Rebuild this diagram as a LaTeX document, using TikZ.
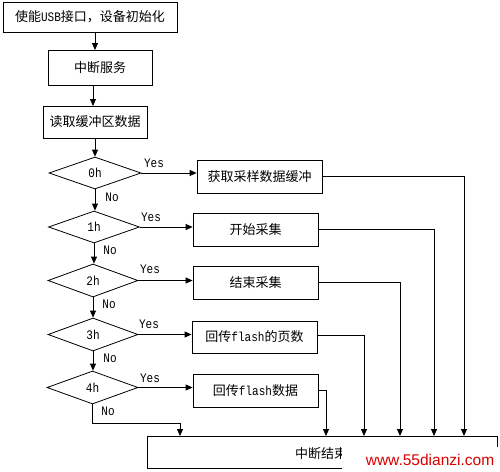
\documentclass[tikz,border=0pt]{standalone}
\usepackage{fontspec}
\newfontfamily\cjk{Noto Sans CJK SC}
\newfontfamily\mono[FakeStretch=0.85]{Liberation Mono}
\newfontfamily\wm{Liberation Sans}
\usetikzlibrary{shapes.geometric,arrows.meta}
\newcommand{\lat}[1]{{\mono\fontsize{13}{15}\selectfont #1}}
\tikzset{
  box/.style={draw=black, line width=0.8pt, rectangle, inner sep=0pt, font=\cjk\fontsize{13}{15}\selectfont},
  dia/.style={draw=black, line width=0.8pt, diamond, inner sep=0pt, font=\mono\fontsize{13}{15}\selectfont},
  lbl/.style={font=\mono\fontsize{13}{15}\selectfont, inner sep=0pt},
  arr/.style={draw=black, line width=0.8pt, -{Triangle[length=7pt,width=6pt]}},
  ln/.style={draw=black, line width=0.8pt}
}
\begin{document}
\begin{tikzpicture}[x=1pt,y=-1pt]
\useasboundingbox (0,0) rectangle (500,471);
% main column
\node[box, minimum width=174pt, minimum height=30pt] (b1) at (90,17) {使能\lat{USB}接口，设备初始化};
\node[box, minimum width=104pt, minimum height=35pt] (b2) at (100,67.5) {中断服务};
\node[box, minimum width=104pt, minimum height=32pt] (b3) at (95,122) {读取缓冲区数据};
\node[dia, minimum width=92pt, minimum height=32pt] (d0) at (95,173) {0h};
\node[dia, minimum width=91pt, minimum height=32pt] (d1) at (94,227) {1h};
\node[dia, minimum width=90pt, minimum height=33pt] (d2) at (93,280.5) {2h};
\node[dia, minimum width=90pt, minimum height=33pt] (d3) at (93,334.5) {3h};
\node[dia, minimum width=91pt, minimum height=33pt] (d4) at (92.5,387.5) {4h};
% right boxes
\node[box, minimum width=125pt, minimum height=33pt] (r0) at (259.5,176.5) {获取采样数据缓冲};
\node[box, minimum width=125pt, minimum height=33pt] (r1) at (255.5,229.5) {开始采集};
\node[box, minimum width=125pt, minimum height=33pt] (r2) at (255.5,282.5) {结束采集};
\node[box, minimum width=125pt, minimum height=32pt] (r3) at (254.5,337) {回传\lat{flash}的页数};
\node[box, minimum width=125pt, minimum height=33pt] (r4) at (255.5,390.5) {回传\lat{flash}数据};
% end box
\node[box, minimum width=350pt, minimum height=32pt] (e) at (322,452) {};
\node[font=\cjk\fontsize{13}{15}\selectfont, inner sep=0pt] (et) at (321,454) {中断结束};
% vertical arrows
\draw[arr] (b1.south -| 95,0) -- (95,50);
\draw[arr] (93,85) -- (93,106);
\draw[arr] (b3.south) -- (d0.north);
\draw[arr] (d0.south -| 95,0) -- (d1.north -| 95,0);
\draw[arr] (d1.south) -- (d2.north -| 94,0);
\draw[arr] (d2.south) -- (d3.north);
\draw[arr] (d3.south) -- (d4.north -| 93,0);
% yes arrows
\draw[arr] (d0.east) -- (d0.east -| r0.west);
\draw[arr] (d1.east) -- (d1.east -| r1.west);
\draw[arr] (d2.east) -- (d2.east -| r2.west);
\draw[arr] (d3.east) -- (d3.east -| r3.west);
\draw[arr] (d4.east) -- (d4.east -| r4.west);
% return lines
\coordinate (c0) at (464,436);
\coordinate (c1) at (434,436);
\coordinate (c2) at (400,436);
\coordinate (c3) at (364,436);
\coordinate (c4) at (326,436);
\coordinate (c5) at (180,436);
\coordinate (k4) at (92.5,423);
\draw[arr] (r0.east) -| (c0);
\draw[arr] (r1.east) -| (c1);
\draw[arr] (r2.east) -| (c2);
\draw[arr] ([yshift=1.5pt]r3.east) -| (c3);
\draw[arr] (r4.east) -| (c4);
\draw[arr] (d4.south) -- (k4) -| (c5);
% labels
\node[lbl] (y0) at (154,163) {Yes};
\node[lbl] (y1) at (151,217) {Yes};
\node[lbl] (y2) at (150,269) {Yes};
\node[lbl] (y3) at (149,324) {Yes};
\node[lbl] (y4) at (150,378) {Yes};
\node[lbl] (n0) at (112,197) {No};
\node[lbl] (n1) at (110,250) {No};
\node[lbl] (n2) at (109,304) {No};
\node[lbl] (n3) at (110,358) {No};
\node[lbl] (n4) at (108,411) {No};
% watermark patch
\fill[white] (342,447) rectangle (500,471);
\fill[white] (388,438.5) rectangle (459,447);
\node[font=\wm\fontsize{15.5}{17}\selectfont, text=red!85!black, inner sep=0pt] (w) at (430,460) {www.55dianzi.com};
\end{tikzpicture}
\end{document}
